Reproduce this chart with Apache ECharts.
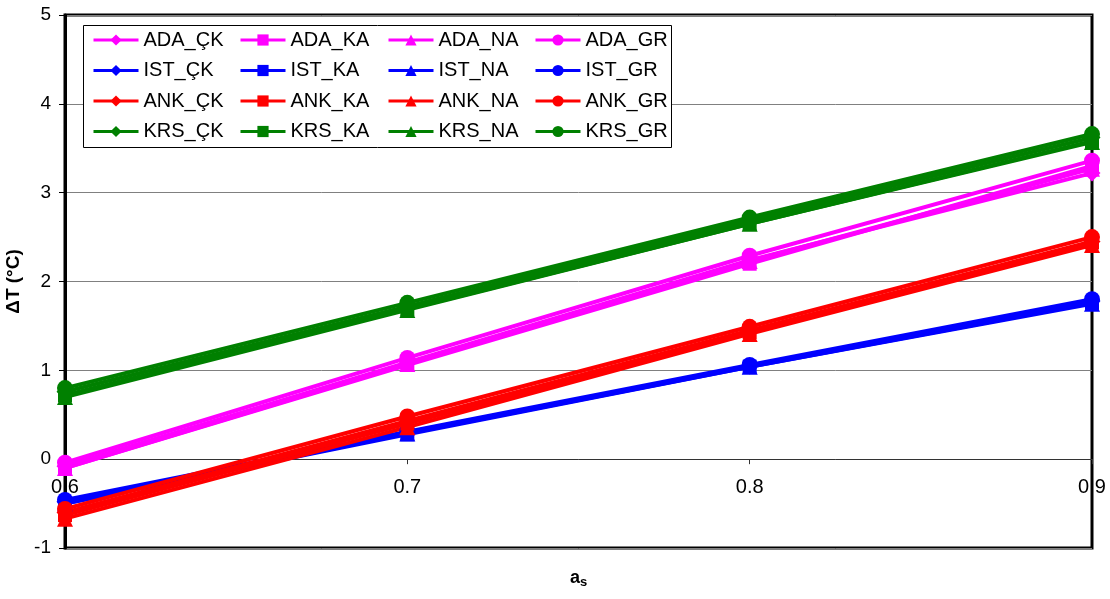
<!DOCTYPE html>
<html>
<head>
<meta charset="utf-8">
<script src="https://cdn.jsdelivr.net/npm/echarts@6/dist/echarts.min.js"></script>
<style>
  html, body { margin: 0; padding: 0; background: #fff; }
  #chart { width: 1110px; height: 599px; }
</style>
</head>
<body>
<div id="chart"></div>
<script>
// Surface albedo values on the x axis
const categories = ['0.6', '0.7', '0.8', '0.9'];

// Temperature change ΔT (°C) per city and roof type
const ADA_CK = [-0.08, 1.09, 2.24, 3.22];
const ADA_KA = [-0.10, 1.06, 2.20, 3.30];
const ADA_NA = [-0.10, 1.07, 2.23, 3.27];
const ADA_GR = [-0.04, 1.14, 2.29, 3.36];
const IST_CK = [-0.48, 0.30, 1.05, 1.78];
const IST_KA = [-0.50, 0.28, 1.04, 1.76];
const IST_NA = [-0.50, 0.29, 1.04, 1.75];
const IST_GR = [-0.46, 0.31, 1.06, 1.80];
const ANK_CK = [-0.60, 0.43, 1.45, 2.45];
const ANK_KA = [-0.63, 0.40, 1.43, 2.44];
const ANK_NA = [-0.67, 0.36, 1.41, 2.41];
const ANK_GR = [-0.56, 0.48, 1.49, 2.50];
const KRS_CK = [0.76, 1.72, 2.69, 3.62];
const KRS_KA = [0.72, 1.69, 2.65, 3.58];
const KRS_NA = [0.70, 1.68, 2.65, 3.57];
const KRS_GR = [0.80, 1.76, 2.72, 3.66];

const Y_MIN = -1, Y_MAX = 5;

const seriesDefs = [
  ['ADA_ÇK', ADA_CK, '#FF00FF', 'diamond'],
  ['ADA_KA', ADA_KA, '#FF00FF', 'rect'],
  ['ADA_NA', ADA_NA, '#FF00FF', 'triangle'],
  ['ADA_GR', ADA_GR, '#FF00FF', 'circle'],
  ['IST_ÇK', IST_CK, '#0000FF', 'diamond'],
  ['IST_KA', IST_KA, '#0000FF', 'rect'],
  ['IST_NA', IST_NA, '#0000FF', 'triangle'],
  ['IST_GR', IST_GR, '#0000FF', 'circle'],
  ['ANK_ÇK', ANK_CK, '#FF0000', 'diamond'],
  ['ANK_KA', ANK_KA, '#FF0000', 'rect'],
  ['ANK_NA', ANK_NA, '#FF0000', 'triangle'],
  ['ANK_GR', ANK_GR, '#FF0000', 'circle'],
  ['KRS_ÇK', KRS_CK, '#008000', 'diamond'],
  ['KRS_KA', KRS_KA, '#008000', 'rect'],
  ['KRS_NA', KRS_NA, '#008000', 'triangle'],
  ['KRS_GR', KRS_GR, '#008000', 'circle']
];

const symbolSizes = { diamond: 17, rect: 14, triangle: 16, circle: 16 };
const FONT = '"Liberation Sans", Arial, sans-serif';

const series = seriesDefs.map(([name, data, color, symbol]) => ({
  name: name,
  type: 'line',
  data: data,
  symbol: symbol,
  symbolSize: symbolSizes[symbol],
  showAllSymbol: true,
  lineStyle: { color: color, width: 4 },
  itemStyle: { color: color },
  emphasis: { disabled: true },
  animation: false
}));

// One legend column per roof type, four rows each
const columnLefts = [92, 239, 387, 534];
const legends = [0, 1, 2, 3].map(c => ({
  orient: 'vertical',
  left: columnLefts[c],
  top: 30,
  padding: 0,
  itemWidth: 45,
  itemHeight: 14,
  itemGap: 10.5,
  selectedMode: false,
  lineStyle: { width: 3 },
  data: [0, 1, 2, 3].map(r => seriesDefs[r * 4 + c][0]),
  textStyle: { fontFamily: FONT, fontSize: 20, color: '#000', lineHeight: 20, padding: [0, 0, 0, 0] }
}));

// Plot box geometry; the category axis is lifted to the ΔT = 0 line
const GRID = { left: 65, right: 18, top: 15, bottom: 51 };
const plotHeight = 599 - GRID.top - GRID.bottom;
const zeroOffset = -plotHeight * (0 - Y_MIN) / (Y_MAX - Y_MIN);

const chart = echarts.init(document.getElementById('chart'), null, { renderer: 'canvas' });
chart.setOption({
  backgroundColor: '#fff',
  animation: false,
  grid: Object.assign({}, GRID, {
    outerBoundsMode: 'none',
    containLabel: false,
    show: true, borderColor: '#000', borderWidth: 3, backgroundColor: 'transparent'
  }),
  legend: legends,
  graphic: [{
    type: 'rect',
    shape: { x: 83.5, y: 25.5, width: 588, height: 122 },
    style: { fill: '#fff', stroke: '#000', lineWidth: 1 },
    z: 3,
    silent: true
  }],
  xAxis: {
    type: 'category',
    data: categories,
    boundaryGap: false,
    position: 'bottom',
    offset: zeroOffset,
    axisLine: { onZero: false, lineStyle: { color: '#333', width: 1 } },
    axisTick: { show: true, length: 5, lineStyle: { color: '#333' } },
    axisLabel: { fontFamily: FONT, fontSize: 20, color: '#000', margin: 18 },
    splitLine: { show: false },
    name: '{a|a}{s|s}',
    nameLocation: 'middle',
    nameGap: 108,
    nameTextStyle: {
      rich: {
        a: { fontFamily: FONT, fontSize: 18, fontWeight: 'bold', color: '#000' },
        s: { fontFamily: FONT, fontSize: 13, fontWeight: 'bold', color: '#000', verticalAlign: 'bottom', padding: [9, 0, 0, 0] }
      }
    }
  },
  yAxis: {
    type: 'value',
    min: Y_MIN, max: Y_MAX, interval: 1,
    axisLine: { show: true, onZero: false, lineStyle: { color: '#000', width: 3 } },
    axisTick: { show: true, length: 6, lineStyle: { color: '#000' } },
    axisLabel: { fontFamily: FONT, fontSize: 19, color: '#000', margin: 14 },
    splitLine: { show: true, lineStyle: { color: '#808080', width: 1 } },
    name: 'ΔT (°C)',
    nameLocation: 'middle',
    nameRotate: 90,
    nameGap: 10,
    nameTextStyle: { fontFamily: FONT, fontSize: 19, fontWeight: 'bold', color: '#000' }
  },
  series: series
});
</script>
</body>
</html>
